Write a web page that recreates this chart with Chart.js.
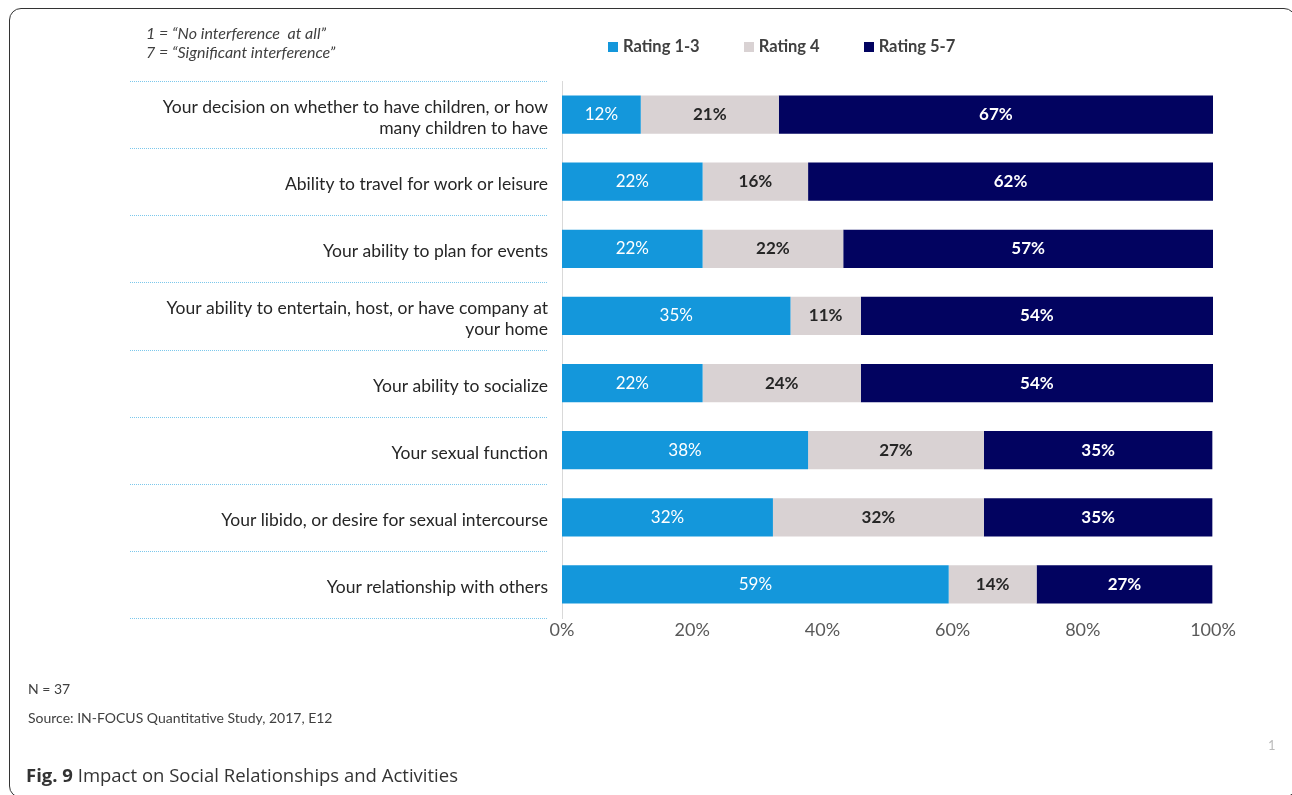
<!DOCTYPE html>
<html>
<head>
<meta charset="utf-8">
<script src="https://cdn.jsdelivr.net/npm/chart.js@4"></script>
<style>
  html, body { margin: 0; padding: 0; background: #fff; overflow: hidden; }
  body { width: 1292px; height: 795px; position: relative; font-family: Lato, "Open Sans", sans-serif; }
  #frame { position: absolute; left: 9px; top: 8px; width: 1287px; height: 790px; border: 1.5px solid #333; border-radius: 12px; box-sizing: border-box; }
  #wrap { position: absolute; left: 0; top: 0; width: 1292px; height: 795px; }
  .note { position: absolute; left: 146px; font-style: italic; font-size: 16px; line-height: 19px; color: #404040; }
  #legend { position: absolute; left: 608px; top: 36px; display: flex; gap: 44px; font-size: 16.5px; font-weight: bold; color: #404040; }
  #legend span.box { display: inline-block; width: 10px; height: 10px; margin-right: 5px; vertical-align: 0px; }
  .foot { position: absolute; left: 28px; font-size: 14px; line-height: 18px; color: #404040; }
  #fig { position: absolute; left: 26px; top: 762px; font-family: "Open Sans", sans-serif; font-size: 18.5px; line-height: 26px; color: #333; }
  #page { position: absolute; left: 1268px; top: 737px; font-size: 13px; color: #bbb; }
</style>
</head>
<body>
<div id="frame"></div>
<div id="wrap"><canvas id="chart"></canvas></div>
<div class="note" style="top:23px">1 = “No interference&nbsp; at all”</div>
<div class="note" style="top:42px">7 = “Significant interference”</div>
<div id="legend"></div>
<div class="foot" style="top:680px">N = 37</div>
<div class="foot" style="top:709px">Source: IN-FOCUS Quantitative Study, 2017, E12</div>
<div id="fig"><b>Fig. 9</b> Impact on Social Relationships and Activities</div>
<div id="page">1</div>
<script>
// categories (top to bottom)
var categories = [
  ['Your decision on whether to have children, or how', 'many children to have'],
  'Ability to travel for work or leisure',
  'Your ability to plan for events',
  ['Your ability to entertain, host, or have company at', 'your home'],
  'Your ability to socialize',
  'Your sexual function',
  'Your libido, or desire for sexual intercourse',
  'Your relationship with others'
];

var seriesNames = ['Rating 1-3', 'Rating 4', 'Rating 5-7'];
var seriesColors = ['#1497db', '#d9d2d3', '#020360'];

// percent of respondents
var rating13 = [12.1, 21.6, 21.6, 35.1, 21.6, 37.8, 32.4, 59.4];
var rating4  = [21.2, 16.2, 21.6, 10.8, 24.3, 27.0, 32.4, 13.5];
var rating57 = [66.7, 62.2, 56.8, 54.1, 54.1, 35.1, 35.1, 27.0];

var xTicks = [0, 20, 40, 60, 80, 100];

var labelStyles = [
  {color: '#ffffff', weight: 'normal'},
  {color: '#262626', weight: 'bold'},
  {color: '#ffffff', weight: 'bold'}
];

// html legend
var legend = document.getElementById('legend');
seriesNames.forEach(function (name, i) {
  var item = document.createElement('div');
  item.innerHTML = '<span class="box" style="background:' + seriesColors[i] + '"></span>' + name;
  legend.appendChild(item);
});

// dotted separators in the label area
var separators = {
  id: 'separators',
  afterDraw: function (chart) {
    var y = chart.scales.y;
    var ctx = chart.ctx;
    var band = (y.bottom - y.top) / categories.length;
    ctx.save();
    ctx.strokeStyle = '#7cc8ec';
    ctx.lineWidth = 1;
    ctx.setLineDash([1, 1]);
    for (var i = 0; i <= categories.length; i++) {
      var py = Math.round(y.top + i * band) + 0.5;
      ctx.beginPath();
      ctx.moveTo(130, py);
      ctx.lineTo(548, py);
      ctx.stroke();
    }
    ctx.restore();
  }
};

// values inside bars
var barLabels = {
  id: 'barLabels',
  afterDatasetsDraw: function (chart) {
    var ctx = chart.ctx;
    ctx.save();
    ctx.textAlign = 'center';
    ctx.textBaseline = 'middle';
    chart.data.datasets.forEach(function (ds, di) {
      var meta = chart.getDatasetMeta(di);
      var st = labelStyles[di];
      ctx.fillStyle = st.color;
      ctx.font = st.weight + ' 17px Lato, sans-serif';
      meta.data.forEach(function (bar, i) {
        ctx.fillText(Math.round(ds.data[i]) + '%', (bar.x + bar.base) / 2, bar.y);
      });
    });
    ctx.restore();
  }
};

var allSeries = [rating13, rating4, rating57];

new Chart(document.getElementById('chart'), {
  type: 'bar',
  data: {
    labels: categories,
    datasets: allSeries.map(function (d, i) {
      return {
        label: seriesNames[i],
        data: d,
        backgroundColor: seriesColors[i],
        borderWidth: 0,
        barPercentage: 0.57,
        categoryPercentage: 1
      };
    })
  },
  options: {
    indexAxis: 'y',
    responsive: true,
    maintainAspectRatio: false,
    animation: false,
    layout: {padding: {left: 0, top: 81, right: 79, bottom: 137}},
    plugins: {legend: {display: false}, tooltip: {enabled: false}},
    scales: {
      x: {
        stacked: true,
        min: 0,
        max: 100,
        afterBuildTicks: function (scale) { scale.ticks = xTicks.map(function (v) { return {value: v}; }); },
        afterFit: function (scale) { scale.height = 40; },
        ticks: {
          color: '#595959',
          padding: 1,
          font: {family: 'Lato', size: 18},
          callback: function (v) { return v + '%'; }
        },
        grid: {display: false, drawTicks: false},
        border: {display: false}
      },
      y: {
        stacked: true,
        afterFit: function (scale) { scale.width = 562; },
        ticks: {
          color: '#262626',
          padding: 14,
          labelOffset: 3,
          font: {family: 'Lato', size: 17.5, lineHeight: 1.2}
        },
        grid: {display: false, drawTicks: false},
        border: {display: true, color: '#d9d9d9', width: 1}
      }
    }
  },
  plugins: [separators, barLabels]
});
</script>
</body>
</html>
